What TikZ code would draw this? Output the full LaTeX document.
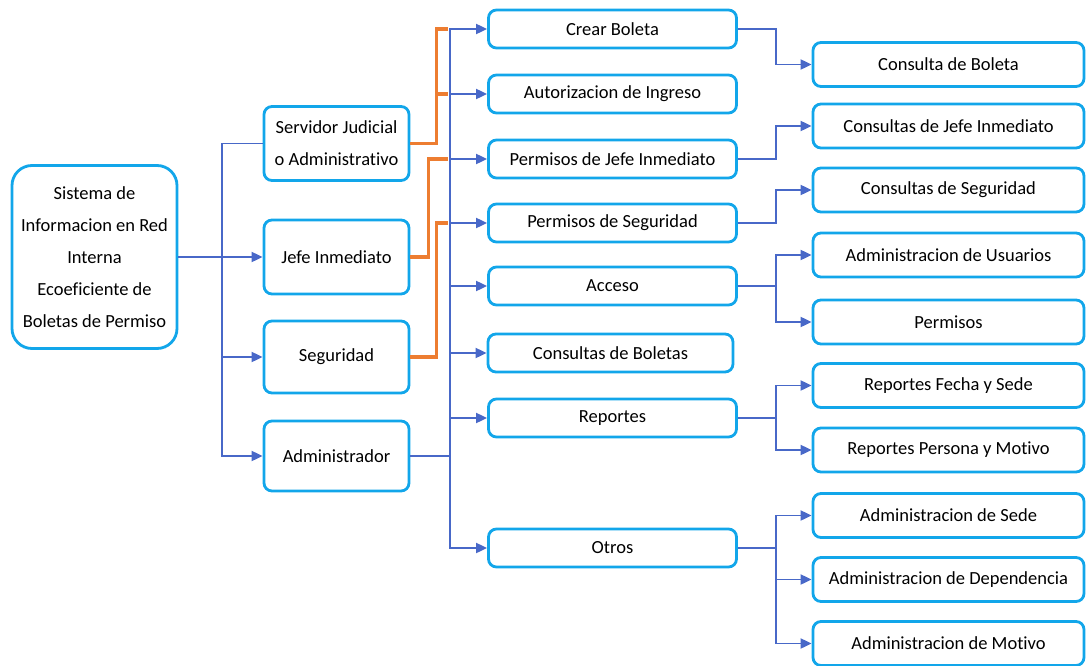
\documentclass[tikz,border=0pt]{standalone}
\usepackage{fontspec}
\setmainfont[Ligatures=NoCommon]{Carlito}
\usetikzlibrary{arrows.meta,calc}
\definecolor{boxc}{RGB}{18,166,234}
\definecolor{linec}{RGB}{72,104,200}
\definecolor{orangec}{RGB}{237,125,49}
\tikzset{
  bx/.style={draw=boxc, line width=2.8pt, rounded corners=8pt, fill=white, align=center, inner sep=0pt,
    font=\fontsize{18.5}{32}\selectfont},
  lone/.style={bx, minimum width=145pt, minimum height=74pt},
  ltwo/.style={bx, minimum width=248pt, minimum height=38pt},
  lthree/.style={bx, minimum width=271pt, minimum height=44pt},
  bl/.style={draw=linec, line width=1.9pt},
  ar/.style={bl, -{Triangle[length=11pt,width=10pt]}},
  orl/.style={draw=orangec, line width=3.4pt},
}
\begin{document}
\begin{tikzpicture}[x=1pt,y=-1pt]
\useasboundingbox (0,0) rectangle (1089,666);
% root
\node[bx, rounded corners=20pt, minimum width=165pt, minimum height=183pt] (root) at (94.5,257)
  {Sistema de\\Informacion en Red\\Interna\\Ecoeficiente de\\Boletas de Permiso};
% level 1
\node[lone] (serv) at (336.5,143.5) {Servidor Judicial\\o Administrativo};
\node[lone] (jefe) at (336.5,257) {Jefe Inmediato};
\node[lone, minimum height=72pt] (segu) at (336.5,357) {Seguridad};
\node[lone, minimum height=70pt] (admin) at (336.5,456) {Administrador};
% level 2
\node[ltwo] (crear) at (612.5,29) {Crear Boleta};
\node[ltwo] (autor) at (612.5,94) {Autorizacion de Ingreso};
\node[ltwo] (pjefe) at (612.5,159) {Permisos de Jefe Inmediato};
\node[ltwo] (pseg) at (612.5,223) {Permisos de Seguridad};
\node[ltwo] (acceso) at (612.5,286) {Acceso};
\node[ltwo, minimum width=245pt] (consb) at (610.5,353) {Consultas de Boletas};
\node[ltwo] (repo) at (612.5,418) {Reportes};
\node[ltwo] (otros) at (612.5,548) {Otros};
% level 3
\node[lthree] (c1) at (948.5,64.5) {Consulta de Boleta};
\node[lthree] (c2) at (948.5,126) {Consultas de Jefe Inmediato};
\node[lthree] (c3) at (948.5,190) {Consultas de Seguridad};
\node[lthree] (c4) at (948.5,255) {Administracion de Usuarios};
\node[lthree] (c5) at (948.5,322) {Permisos};
\node[lthree] (c6) at (948.5,385.5) {Reportes Fecha y Sede};
\node[lthree] (c7) at (948.5,450) {Reportes Persona y Motivo};
\node[lthree] (c8) at (948.5,515.5) {Administracion de Sede};
\node[lthree] (c9) at (948.5,579.5) {Administracion de Dependencia};
\node[lthree] (c10) at (948.5,643.5) {Administracion de Motivo};
% root trunk
\coordinate (t1) at (222,257);
\draw[bl, line width=2.3pt] (root.east) -- (t1);
\draw[bl] (t1) |- (serv.west);
\draw[ar] (t1) -- (jefe.west);
\draw[ar] (t1) |- (segu.west);
\draw[ar] (t1) |- (admin.west);
% orange links
\draw[orl] (serv.east) -- ++(26,0) |- ($(crear.west)+(-39,0)$);
\draw[orl] ($(serv.east)+(26,0)$) |- ($(autor.west)+(-39,0)$);
\draw[orl] (jefe.east) -- ++(18,0) |- ($(pjefe.west)+(-39,0)$);
\draw[orl] (segu.east) -- ++(26,0) |- ($(pseg.west)+(-39,0)$);
% admin trunk
\coordinate (a2) at (450,456);
\draw[bl, line width=2.5pt] (admin.east) -- (a2);
\draw[ar] (a2) |- (crear.west);
\draw[ar] (a2) |- (autor.west);
\draw[ar] (a2) |- (pjefe.west);
\draw[ar] (a2) |- (pseg.west);
\draw[ar] (a2) |- (acceso.west);
\draw[ar] (a2) |- (consb.west);
\draw[ar] (a2) |- (repo.west);
\draw[ar] (a2) |- (otros.west);
\draw[bl, line width=2.5pt] (a2) -- ($(consb.west -| a2)$);
% right side
\draw[ar] (crear.east) -- ++(38,0) |- (c1.west);
\draw[ar] (pjefe.east) -- ++(38,0) |- (c2.west);
\draw[ar] (pseg.east) -- ++(38,0) |- (c3.west);
\draw[ar] (acceso.east) -- ++(38,0) |- (c4.west);
\draw[ar] ($(acceso.east)+(38,0)$) |- (c5.west);
\draw[ar] (repo.east) -- ++(38,0) |- (c6.west);
\draw[ar] ($(repo.east)+(38,0)$) |- (c7.west);
\draw[ar] (otros.east) -- ++(38,0) |- (c8.west);
\draw[ar] ($(otros.east)+(38,0)$) |- (c9.west);
\draw[ar] ($(otros.east)+(38,0)$) |- (c10.west);
\end{tikzpicture}
\end{document}
